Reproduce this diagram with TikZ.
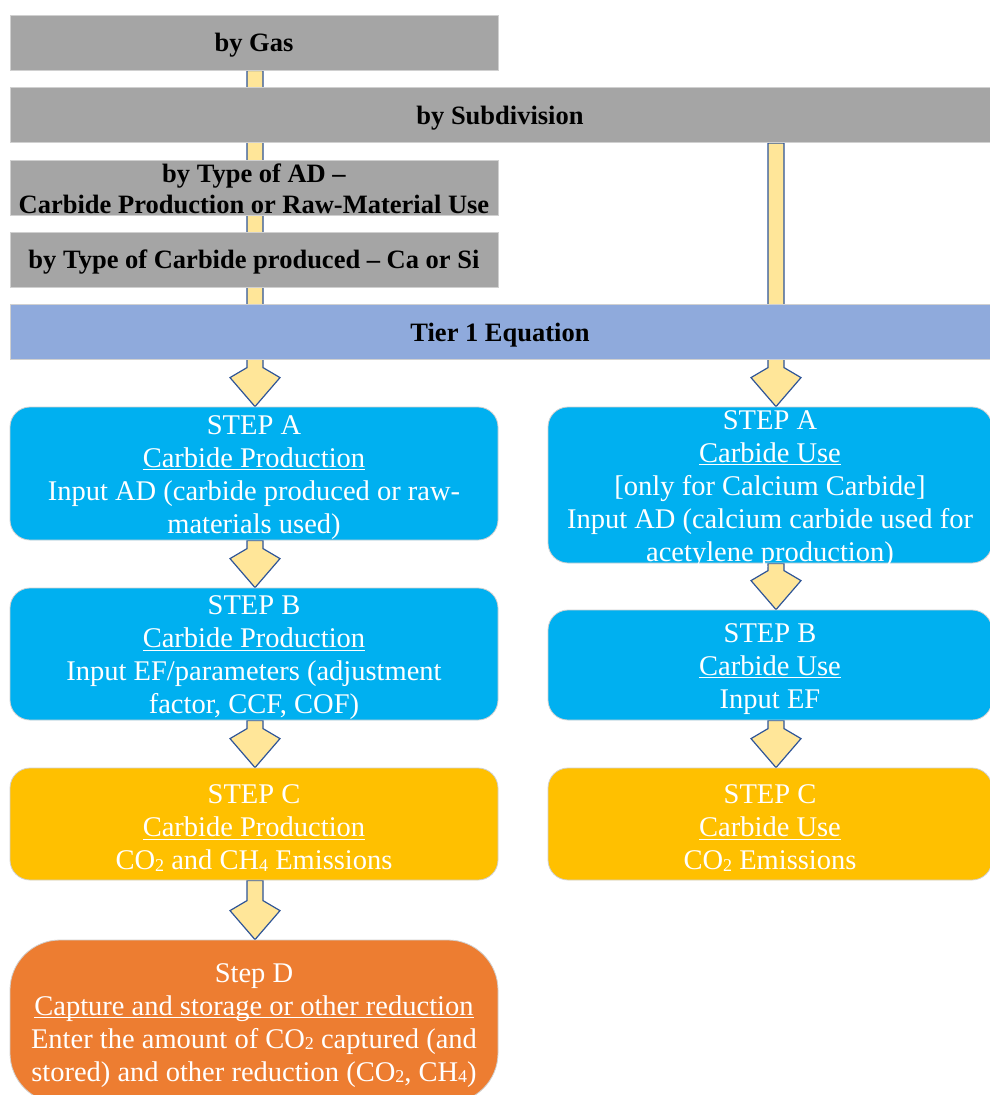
\documentclass[tikz,border=0pt]{standalone}
\usepackage{fontspec}
\setmainfont{Liberation Serif}
\usetikzlibrary{calc}
\pgfdeclarelayer{back}
\pgfdeclarelayer{bg}
\pgfsetlayers{back,bg,main}
\definecolor{bargrey}{HTML}{A5A5A5}
\definecolor{barline}{HTML}{D0D0D0}
\definecolor{tierblue}{HTML}{8FAADC}
\definecolor{stepcyan}{HTML}{00B0F0}
\definecolor{stepgold}{HTML}{FFC000}
\definecolor{steporange}{HTML}{ED7D31}
\definecolor{arrowfill}{HTML}{FFE699}
\definecolor{arrowline}{HTML}{2F5597}
\newcommand{\uln}[1]{\setbox0\hbox{#1}\rlap{\rule[-3pt]{\wd0}{1.1pt}}\box0}
\newcommand{\chemsub}[1]{\raisebox{-1.5pt}{\fontsize{18}{18}\selectfont #1}}
\newcommand{\blockarrow}[2]{%
  \begin{pgfonlayer}{bg}
  \draw[flowarrow] let \p1=(#1), \p2=(#2) in
    (\x2-8pt,\y1) -- (\x2-8pt,\y2+39pt) -- (\x2-25pt,\y2+29pt) -- (\x2,\y2)
    -- (\x2+25pt,\y2+29pt) -- (\x2+8pt,\y2+39pt) -- (\x2+8pt,\y1) -- cycle;
  \end{pgfonlayer}}
\tikzset{
  flowarrow/.style={fill=arrowfill, draw=arrowline, line width=1.2pt, line join=miter},
  bar/.style={rectangle, fill=bargrey, draw=barline, line width=0.8pt, inner sep=0pt},
  bartext/.style={align=center, inner sep=0pt, yshift=-3pt,
    font=\fontsize{26.5}{31}\selectfont\bfseries, text=black},
  tier/.style={bar, fill=tierblue},
  stepbox/.style={rectangle, rounded corners=20pt, draw=barline, line width=0.8pt, inner sep=0pt},
  steptext/.style={align=center, inner sep=0pt, yshift=-4pt, text=white,
    font=\fontsize{28.5}{33}\selectfont},
}
\begin{document}
\begin{tikzpicture}[x=1pt,y=-1pt]
\clip (0,0) rectangle (990,1095);
\begin{pgfonlayer}{back}
\fill[white] (0,0) rectangle (990,1095);
\end{pgfonlayer}

% classification bars
\node[bar, minimum width=488, minimum height=55,
  label={[bartext]center:by Gas}] (gas) at (254,42.5) {};
\node[bar, minimum width=980, minimum height=55,
  label={[bartext]center:by Subdivision}] (sub) at (500,115) {};
\node[bar, minimum width=488, minimum height=55,
  label={[bartext, yshift=2pt]center:{by Type of AD --\\Carbide Production or Raw-Material Use}}] (adtype) at (254,187.5) {};
\node[bar, minimum width=488, minimum height=55,
  label={[bartext]center:by Type of Carbide produced -- Ca or Si}] (cartype) at (254,259.5) {};
\node[tier, minimum width=980, minimum height=55,
  label={[bartext]center:Tier 1 Equation}] (tier) at (500,332) {};

% carbide production branch
\node[stepbox, fill=stepcyan, minimum width=488, minimum height=133,
  label={[steptext]center:{STEP A\\\uln{Carbide Production}\\Input AD (carbide produced or raw-\\materials used)}}]
  (pA) at (254,473.5) {};
\node[stepbox, fill=stepcyan, minimum width=488, minimum height=132,
  label={[steptext]center:{STEP B\\\uln{Carbide Production}\\Input EF/parameters (adjustment\\factor, CCF, COF)}}]
  (pB) at (254,654) {};
\node[stepbox, fill=stepgold, minimum width=488, minimum height=112,
  label={[steptext]center:{STEP C\\\uln{Carbide Production}\\CO\chemsub{2} and CH\chemsub{4} Emissions}}]
  (pC) at (254,824) {};
\node[stepbox, fill=steporange, rounded corners=50pt, minimum width=488, minimum height=163,
  label={[steptext]center:{Step D\\\uln{Capture and storage or other reduction}\\Enter the amount of CO\chemsub{2} captured (and\\stored) and other reduction (CO\chemsub{2}, CH\chemsub{4})}}]
  (pD) at (254,1021.5) {};

% carbide use branch
\node[stepbox, fill=stepcyan, minimum width=444, minimum height=156,
  label={[steptext]center:{STEP A\\\uln{Carbide Use}\\{[}only for Calcium Carbide{]}\\Input AD (calcium carbide used for\\acetylene production)}}]
  (uA) at (770,485) {};
\node[stepbox, fill=stepcyan, minimum width=444, minimum height=110,
  label={[steptext]center:{STEP B\\\uln{Carbide Use}\\Input EF}}]
  (uB) at (770,665) {};
\node[stepbox, fill=stepgold, minimum width=444, minimum height=112,
  label={[steptext]center:{STEP C\\\uln{Carbide Use}\\CO\chemsub{2} Emissions}}]
  (uC) at (770,824) {};

% connectors
\blockarrow{gas.south}{[xshift=1pt]pA.north}
\blockarrow{pA.south}{[xshift=1pt]pB.north}
\blockarrow{pB.south}{[xshift=1pt]pC.north}
\blockarrow{pC.south}{[xshift=1pt]pD.north}
\blockarrow{sub.south}{[xshift=6pt]uA.north}
\blockarrow{uA.south}{[xshift=6pt]uB.north}
\blockarrow{uB.south}{[xshift=6pt]uC.north}
\end{tikzpicture}
\end{document}
